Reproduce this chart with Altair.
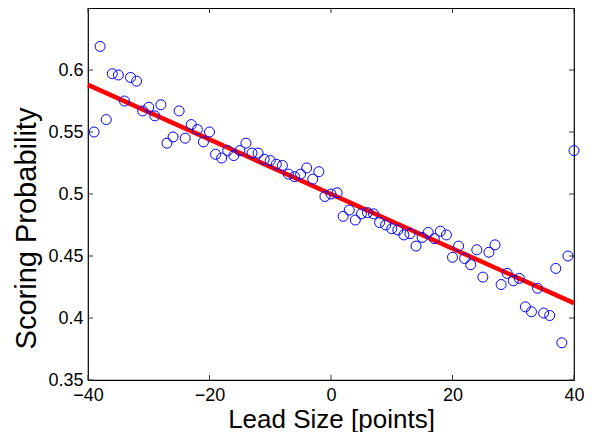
import altair as alt
import pandas as pd

lead = list(range(-39, 41))
prob = [0.550, 0.619, 0.560, 0.597, 0.596, 0.575, 0.594, 0.591, 0.567, 0.570,
        0.563, 0.572, 0.541, 0.546, 0.567, 0.545, 0.556, 0.552, 0.542, 0.550,
        0.532, 0.529, 0.535, 0.531, 0.535, 0.541, 0.533, 0.533, 0.528, 0.527,
        0.524, 0.523, 0.516, 0.514, 0.516, 0.521, 0.512, 0.518, 0.498, 0.500,
        0.501, 0.482, 0.487, 0.479, 0.484, 0.485, 0.484, 0.477, 0.475, 0.472,
        0.471, 0.467, 0.468, 0.458, 0.465, 0.469, 0.464, 0.470, 0.467, 0.449,
        0.458, 0.448, 0.443, 0.455, 0.433, 0.453, 0.459, 0.427, 0.436, 0.430,
        0.432, 0.409, 0.405, 0.424, 0.404, 0.402, 0.440, 0.380, 0.450, 0.535]

fit_x = [-40, 40]
fit_y = [0.588, 0.412]

x_ticks = [-40, -20, 0, 20, 40]
y_ticks = [0.35, 0.40, 0.45, 0.50, 0.55, 0.60, 0.65]
y_labels = [0.35, 0.40, 0.45, 0.50, 0.55, 0.60]

W, H = 486, 372
FONT = "Liberation Sans"

pts = pd.DataFrame({"lead": lead, "prob": prob})
fit = pd.DataFrame({"lead": fit_x, "prob": fit_y})
xt = pd.DataFrame({"t": x_ticks})
yt = pd.DataFrame({"t": y_ticks})

xscale = alt.Scale(domain=[-40, 40], nice=False, zero=False)
yscale = alt.Scale(domain=[0.35, 0.65], nice=False, zero=False)

xaxis = alt.Axis(values=x_ticks, ticks=False, domain=False, grid=False,
                 labelFont=FONT, labelFontSize=18, labelColor="black",
                 labelPadding=6, labelFlush=False,
                 title="Lead Size [points]", titleFont=FONT, titleFontSize=26,
                 titleFontWeight="normal", titleColor="black",
                 titleX=W / 2, titleY=47, titleAlign="center",
                 titleBaseline="alphabetic")
yaxis = alt.Axis(values=y_labels, format=".2~f", ticks=False, domain=False, grid=False,
                 labelFont=FONT, labelFontSize=18, labelColor="black",
                 labelPadding=5, labelFlush=False,
                 title="Scoring Probability", titleFont=FONT, titleFontSize=29,
                 titleFontWeight="normal", titleColor="black",
                 titleX=-53, titleY=220, titleAngle=270, titleAlign="center",
                 titleBaseline="alphabetic")

line = alt.Chart(fit).mark_line(color="#ff0000", strokeWidth=4.5).encode(
    x=alt.X("lead:Q", scale=xscale, axis=xaxis),
    y=alt.Y("prob:Q", scale=yscale, axis=yaxis),
)

points = alt.Chart(pts).mark_point(shape="circle", filled=False, color="#0000ff",
                                   size=100, strokeWidth=1, opacity=1).encode(
    x=alt.X("lead:Q", scale=xscale),
    y=alt.Y("prob:Q", scale=yscale),
)

tick_color = "#333333"
xb = alt.Chart(xt).mark_rule(color=tick_color, strokeWidth=1).encode(
    x=alt.X("t:Q", scale=xscale), y=alt.value(H), y2=alt.value(H - 5))
xtop = alt.Chart(xt).mark_rule(color=tick_color, strokeWidth=1).encode(
    x=alt.X("t:Q", scale=xscale), y=alt.value(0), y2=alt.value(5))
yl = alt.Chart(yt).mark_rule(color=tick_color, strokeWidth=1).encode(
    y=alt.Y("t:Q", scale=yscale), x=alt.value(0), x2=alt.value(5))
yr = alt.Chart(yt).mark_rule(color=tick_color, strokeWidth=1).encode(
    y=alt.Y("t:Q", scale=yscale), x=alt.value(W), x2=alt.value(W - 5))

chart = alt.layer(line, points, xb, xtop, yl, yr).properties(
    width=W, height=H,
    padding={"left": 80, "top": 0, "right": 10, "bottom": 52},
    autosize=alt.AutoSizeParams(type="none"),
    background="white",
).configure_view(stroke="black", strokeWidth=1.2)

chart.save("out.html", embed_options={"renderer": "svg", "actions": False})
